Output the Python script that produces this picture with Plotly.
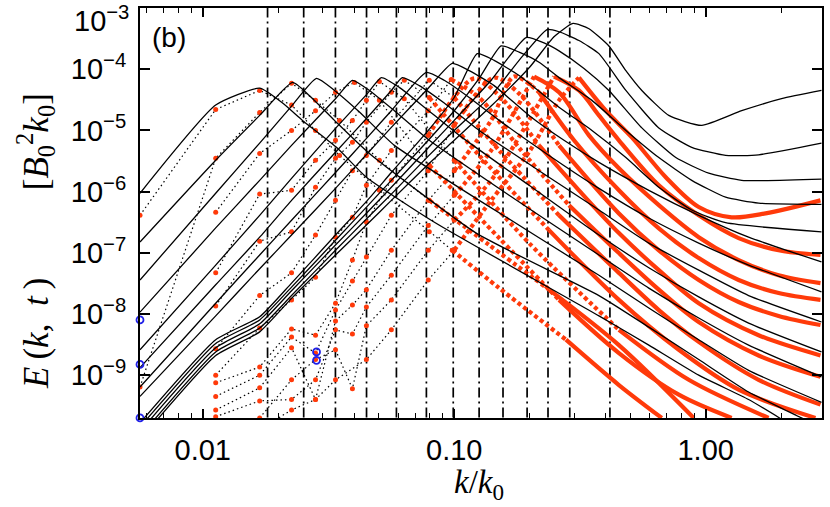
import numpy as np
import plotly.graph_objects as go

# ==========================
# DATA (k/k0, E)
# ==========================
# vertical dash-dot markers
k_marks = [0.0181, 0.0252, 0.0337, 0.0448, 0.0589, 0.0775, 0.0991, 0.1256,
           0.1563, 0.1949, 0.236, 0.288, 0.416]

# black solid spectra
k_c1 = [0.00563, 0.01126, 0.01684, 0.02255, 0.03372, 0.04516, 0.05623, 0.07885, 0.1, 0.1402, 0.2002,
        0.2493, 0.2967, 0.3434, 0.4121, 0.4814, 0.5572, 0.7129, 0.9641, 1.390, 2.003, 2.886]
E_c1 = [8.8e-11, 2.1e-9, 5.1e-9, 1.8e-8, 9.2e-8, 2.95e-7, 7.2e-7, 2.8e-6, 6.9e-6, 2.5e-5, 1.1e-4,
        3.4e-4, 5.6e-4, 4.6e-4, 2.4e-4, 9.5e-5, 4.5e-5, 1.76e-5, 1.21e-5, 2.1e-5, 3.3e-5, 4.5e-5]
k_c2 = [0.00563, 0.01126, 0.01684, 0.02255, 0.03372, 0.04516, 0.05623, 0.07885, 0.1, 0.1402, 0.1811,
        0.2339, 0.2610, 0.3133, 0.3762, 0.4814, 0.6510, 0.8799, 1.200, 1.623, 2.886]
E_c2 = [1.0e-10, 2.4e-9, 5.9e-9, 2.0e-8, 1.1e-7, 3.7e-7, 9.1e-7, 3.8e-6, 1.0e-5, 3.7e-5, 1.4e-4,
        4.45e-4, 4.1e-4, 2.95e-4, 1.8e-4, 4.5e-5, 1.1e-5, 5.3e-6, 3.9e-6, 4.0e-6, 6.2e-6]
k_c3 = [0.00563, 0.01126, 0.01684, 0.02255, 0.03372, 0.04516, 0.05623, 0.07885, 0.1, 0.1402, 0.1931,
        0.2276, 0.2610, 0.3281, 0.4121, 0.5572, 0.7603, 1.028, 1.390, 2.886]
E_c3 = [1.2e-10, 2.8e-9, 6.9e-9, 2.4e-8, 1.34e-7, 4.6e-7, 1.18e-6, 5.2e-6, 1.46e-5, 6.6e-5, 3.3e-4,
        2.7e-4, 2.0e-4, 1.03e-4, 4.5e-5, 1.1e-5, 3.6e-6, 2.0e-6, 1.53e-6, 1.6e-6]
k_c4 = [0.00563, 0.01126, 0.01684, 0.02255, 0.03372, 0.04516, 0.05623, 0.07885, 0.1, 0.1257, 0.1537,
        0.1811, 0.2174, 0.2610, 0.3529, 0.4814, 0.6510, 0.8799, 1.200, 1.623, 2.886]
E_c4 = [1.42e-10, 3.3e-9, 8.0e-9, 2.75e-8, 1.6e-7, 5.8e-7, 1.53e-6, 6.9e-6, 2.1e-5, 7.1e-5, 2.4e-4,
        1.9e-4, 1.3e-4, 7.3e-5, 3.1e-5, 1.0e-5, 3.6e-6, 1.53e-6, 8.1e-7, 6.5e-7, 6.2e-7]
k_c5 = [0.00563, 0.01126, 0.01684, 0.02255, 0.03372, 0.04516, 0.05623, 0.07885, 0.1, 0.1234, 0.1441,
        0.1811, 0.2610, 0.3529, 0.4814, 0.6510, 0.8799, 1.200, 2.886]
E_c5 = [1.66e-10, 3.8e-9, 9.0e-9, 3.2e-8, 1.95e-7, 7.2e-7, 2.05e-6, 1.0e-5, 3.45e-5, 1.8e-4, 1.4e-4,
        7.9e-5, 2.4e-5, 1.0e-5, 3.6e-6, 1.18e-6, 5.0e-7, 3.1e-7, 2.2e-7]
k_c6 = [0.00563, 0.01126, 0.01684, 0.02255, 0.03372, 0.04516, 0.05623, 0.07885, 0.09819, 0.1147,
        0.1441, 0.1984, 0.2732, 0.3762, 0.5939, 0.9380, 1.481, 2.886]
E_c6 = [4.5e-10, 9.3e-9, 5.5e-8, 1.95e-7, 1.13e-6, 4.2e-6, 1.12e-5, 4.9e-5, 1.25e-4, 9.5e-5,
        5.4e-5, 1.76e-5, 6.9e-6, 3.0e-6, 1.05e-6, 4.1e-7, 1.8e-7, 7.1e-8]
k_c7 = [0.00563, 0.01126, 0.01684, 0.02255, 0.03372, 0.04516, 0.05623, 0.07743, 0.09127, 0.1147,
        0.1509, 0.2382, 0.3762, 0.5939, 0.9380, 1.481, 2.886]
E_c7 = [6.4e-10, 1.5e-8, 9.2e-8, 3.4e-7, 2.05e-6, 7.7e-6, 2.1e-5, 8.9e-5, 6.6e-5, 3.45e-5,
        1.46e-5, 3.9e-6, 1.13e-6, 3.7e-7, 1.44e-7, 6.3e-8, 2.3e-8]
k_c8 = [0.00563, 0.01126, 0.01684, 0.02255, 0.03372, 0.04516, 0.05623, 0.06217, 0.07263, 0.09127,
        0.1257, 0.2174, 0.3762, 0.5939, 0.9380, 1.481, 2.886]
E_c8 = [1.33e-9, 3.0e-8, 1.8e-7, 7.2e-7, 4.4e-6, 1.63e-5, 4.5e-5, 7.3e-5, 5.4e-5, 2.8e-5,
        1.0e-5, 2.2e-6, 5.0e-7, 1.44e-7, 5.2e-8, 2.0e-8, 7.4e-9]
k_c9 = [0.00563, 0.01126, 0.01684, 0.02255, 0.03372, 0.04516, 0.05133, 0.06048, 0.07603, 0.1047,
        0.1984, 0.3762, 0.5939, 0.9380, 1.481, 2.886]
E_c9 = [2.6e-9, 6.3e-8, 4.1e-7, 1.65e-6, 1.08e-5, 4.0e-5, 7.3e-5, 5.05e-5, 2.4e-5, 8.3e-6,
        1.27e-6, 1.95e-7, 5.7e-8, 1.9e-8, 7.1e-9, 2.4e-9]
k_c10 = [0.00563, 0.01126, 0.01684, 0.02255, 0.03372, 0.03937, 0.04599, 0.05779, 0.07958, 0.1653,
         0.3762, 0.5939, 0.9380, 1.481, 2.886]
E_c10 = [1.07e-8, 2.55e-7, 1.53e-6, 5.7e-6, 3.3e-5, 6.6e-5, 4.5e-5, 2.1e-5, 6.9e-6, 8.7e-7,
         9.2e-8, 2.65e-8, 8.6e-9, 3.1e-9, 9.4e-10]
k_c11 = [0.00563, 0.01126, 0.01684, 0.02255, 0.02834, 0.03341, 0.04198, 0.05779, 0.1257, 0.3762,
         0.5939, 0.9380, 1.481, 2.886]
E_c11 = [3.6e-8, 9.4e-7, 6.2e-6, 2.5e-5, 7.1e-5, 4.5e-5, 2.0e-5, 5.7e-6, 7.2e-7, 4.3e-8,
         1.25e-8, 3.8e-9, 1.2e-9, 3.6e-10]
k_c12 = [0.00563, 0.01126, 0.01684, 0.02276, 0.02658, 0.03341, 0.04599, 0.1223, 0.3762, 0.5939,
         0.9380, 1.481, 2.404, 2.886]
E_c12 = [1.5e-7, 3.25e-6, 1.76e-5, 6.1e-5, 3.7e-5, 1.46e-5, 4.2e-6, 2.1e-7, 2.0e-8, 6.1e-9,
         1.8e-9, 5.3e-10, 2.0e-10, 1.3e-10]
k_c13 = [0.00563, 0.01126, 0.01684, 0.02077, 0.02493, 0.03402, 0.04474, 0.08404, 0.3762, 0.5939,
         0.9380, 1.481, 1.966, 2.886]
E_c13 = [9.4e-7, 2.6e-5, 4.9e-5, 2.8e-5, 1.46e-5, 5.3e-6, 1.72e-6, 3.1e-7, 9.3e-9, 3.1e-9,
         1.0e-9, 4.0e-10, 2.0e-10, 7.5e-11]

# red dotted spectra
k_r1 = [0.01684, 0.02255, 0.02808, 0.03372, 0.04474, 0.05623, 0.07885, 0.1, 0.1402, 0.2002, 0.2610,
        0.3133, 0.4010, 0.5085, 0.6938, 0.9380, 1.268, 1.730, 2.860]
E_r1 = [1.3e-10, 2.7e-10, 4.0e-10, 8.4e-10, 1.8e-9, 5.5e-9, 3.6e-8, 1.1e-7, 7.2e-7, 4.7e-6, 3.1e-5,
        7.3e-5, 2.1e-5, 7.7e-6, 1.72e-6, 5.6e-7, 3.8e-7, 4.4e-7, 7.2e-7]
k_r2 = [0.01684, 0.02255, 0.02808, 0.03372, 0.03937, 0.04474, 0.05623, 0.07885, 0.1, 0.1402, 0.1984,
        0.2493, 0.3133, 0.3762, 0.4517, 0.6510, 0.9380, 1.352, 1.949, 2.860]
E_r2 = [2.0e-10, 8.4e-10, 1.8e-9, 2.6e-9, 6.0e-10, 6.4e-9, 1.7e-8, 1.1e-7, 3.4e-7, 1.53e-6, 1.46e-5,
        7.6e-5, 4.5e-5, 1.76e-5, 6.9e-6, 1.27e-6, 4.1e-7, 1.74e-7, 1.1e-7, 9.2e-8]
k_r3 = [0.01126, 0.01684, 0.02255, 0.02808, 0.03372, 0.03937, 0.04474, 0.05623, 0.07885, 0.1, 0.1402,
        0.2078, 0.2610, 0.3434, 0.4517, 0.6510, 0.9380, 1.352, 1.949, 2.860]
E_r3 = [2.1e-10, 3.8e-10, 4.0e-10, 8.4e-10, 5.5e-9, 4.7e-9, 1.3e-8, 4.3e-8, 2.8e-7, 8.7e-7, 4.7e-6,
        7.6e-5, 4.2e-5, 8.3e-6, 2.4e-6, 6.0e-7, 1.8e-7, 7.6e-8, 4.3e-8, 3.2e-8]
k_r4 = [0.01126, 0.01684, 0.02255, 0.02808, 0.03372, 0.03937, 0.04474, 0.05623, 0.07885, 0.1, 0.1402,
        0.1730, 0.2174, 0.2994, 0.4517, 0.6510, 0.9380, 1.352, 1.949, 2.860]
E_r4 = [2.7e-10, 6.2e-10, 2.8e-9, 4.0e-10, 7.7e-9, 1.4e-8, 2.5e-8, 1.1e-7, 7.2e-7, 2.2e-6, 1.46e-5,
        7.6e-5, 4.2e-5, 6.9e-6, 1.05e-6, 2.5e-7, 8.2e-8, 3.6e-8, 2.2e-8, 1.7e-8]
k_r5 = [0.01126, 0.01684, 0.02255, 0.02808, 0.03372, 0.03937, 0.04474, 0.05623, 0.07885, 0.1, 0.1441,
        0.1811, 0.2610, 0.4517, 0.6510, 0.9380, 1.352, 1.949, 2.860]
E_r5 = [4.5e-10, 1.0e-9, 4.2e-9, 2.3e-9, 1.16e-8, 3.45e-8, 8.5e-8, 4.1e-7, 2.2e-6, 1.21e-5, 7.3e-5,
        4.0e-5, 5.7e-6, 4.4e-7, 1.1e-7, 3.6e-8, 1.57e-8, 9.3e-9, 6.6e-9]
k_r6 = [0.01126, 0.01684, 0.02255, 0.02808, 0.03372, 0.03937, 0.04474, 0.05623, 0.07885, 0.1201,
        0.1509, 0.2174, 0.3133, 0.4517, 0.6510, 0.9380, 1.623, 2.860]
E_r6 = [7.5e-10, 1.36e-9, 5.7e-9, 4.5e-9, 1.5e-8, 7.6e-8, 3.2e-7, 1.53e-6, 8.3e-6, 7.1e-5,
        3.7e-5, 5.7e-6, 1.05e-6, 2.1e-7, 5.2e-8, 1.5e-8, 4.5e-9, 2.1e-9]
k_r7 = [0.01126, 0.01684, 0.02255, 0.02808, 0.03372, 0.03937, 0.04474, 0.05623, 0.07885, 0.09729,
        0.1257, 0.1811, 0.2860, 0.4517, 0.6510, 0.9380, 1.623, 2.860]
E_r7 = [1.0e-9, 5.9e-9, 1.7e-8, 4.0e-8, 1.8e-7, 3.8e-7, 1.27e-6, 4.7e-6, 2.1e-5, 6.8e-5,
        3.45e-5, 5.2e-6, 6.0e-7, 9.9e-8, 2.5e-8, 7.4e-9, 2.1e-9, 9.4e-10]
k_r8 = [0.01126, 0.01684, 0.02255, 0.02808, 0.03372, 0.03937, 0.04474, 0.05623, 0.07958, 0.1,
        0.1509, 0.2610, 0.4517, 0.6510, 0.9380, 1.623, 2.860]
E_r8 = [2.7e-9, 2.0e-8, 4.7e-8, 1.95e-7, 7.2e-7, 2.2e-6, 3.9e-6, 1.36e-5, 6.6e-5, 3.45e-5,
        4.7e-6, 4.1e-7, 4.7e-8, 1.16e-8, 3.5e-9, 8.4e-10, 3.3e-10]
k_r9 = [0.01126, 0.01684, 0.02255, 0.02808, 0.03372, 0.03937, 0.04474, 0.05623, 0.06331, 0.07958,
        0.1257, 0.2382, 0.4517, 0.7816, 1.352, 2.732]
E_r9 = [1.35e-8, 1.55e-7, 2.2e-7, 1.18e-6, 3.5e-6, 6.4e-6, 1.36e-5, 4.2e-5, 6.6e-5, 3.45e-5,
        3.9e-6, 2.35e-7, 1.7e-8, 2.6e-9, 5.8e-10, 2.0e-10]
k_r10 = [0.01126, 0.01684, 0.02255, 0.02808, 0.03372, 0.03937, 0.04474, 0.05040, 0.06331, 0.1,
         0.1984, 0.4517, 0.8560, 1.778]
E_r10 = [4.7e-8, 9.1e-7, 1.05e-6, 3.25e-6, 6.9e-6, 1.46e-5, 3.1e-5, 6.3e-5, 3.3e-5, 3.25e-6,
         1.44e-7, 5.5e-9, 8.4e-10, 2.0e-10]
k_r11 = [0.01126, 0.01684, 0.02255, 0.02808, 0.03372, 0.04010, 0.05040, 0.07958, 0.1509, 0.2610,
         0.4517, 0.7816, 1.268]
E_r11 = [4.6e-7, 4.2e-6, 1.0e-5, 2.1e-5, 4.2e-5, 6.1e-5, 3.1e-5, 2.7e-6, 1.74e-7, 1.7e-8,
         2.3e-9, 4.8e-10, 2.0e-10]
k_r12 = [0.00563, 0.01126, 0.01684, 0.02255, 0.02808, 0.03498, 0.05040, 0.07958, 0.1377, 0.2382,
         0.4517, 0.8960]
E_r12 = [6.4e-10, 3.5e-6, 1.97e-5, 5.9e-5, 3.1e-5, 1.46e-5, 3.25e-6, 7.2e-7, 1.34e-7, 2.5e-8,
         3.1e-9, 2.0e-10]
k_r13 = [0.00563, 0.01126, 0.01684, 0.02255, 0.02808, 0.03498, 0.05040, 0.07958, 0.09819, 0.1509,
         0.2782, 0.4517, 0.6689]
E_r13 = [4.1e-7, 2.2e-5, 4.5e-5, 2.6e-5, 1.0e-5, 3.9e-6, 1.05e-6, 2.2e-7, 1.1e-7, 2.65e-8,
         3.8e-9, 6.9e-10, 2.0e-10]

# blue open circles
k_blue = [0.00563, 0.00563, 0.00563, 0.02834, 0.02834]
E_blue = [8.0e-9, 1.5e-9, 2.0e-10, 2.4e-9, 1.75e-9]

black_sets = [(k_c1, E_c1), (k_c2, E_c2), (k_c3, E_c3), (k_c4, E_c4), (k_c5, E_c5),
              (k_c6, E_c6), (k_c7, E_c7), (k_c8, E_c8), (k_c9, E_c9), (k_c10, E_c10),
              (k_c11, E_c11), (k_c12, E_c12), (k_c13, E_c13)]
red_sets = [(k_r1, E_r1), (k_r2, E_r2), (k_r3, E_r3), (k_r4, E_r4), (k_r5, E_r5),
            (k_r6, E_r6), (k_r7, E_r7), (k_r8, E_r8), (k_r9, E_r9), (k_r10, E_r10),
            (k_r11, E_r11), (k_r12, E_r12), (k_r13, E_r13)]

RED = "#ff3a0a"
K_LO, K_HI = 0.00563, 2.9
E_LO, E_HI = 2.0e-10, 1.0e-3

fig = go.Figure()

# ==========================
# VERTICAL DASH-DOT LINES
# ==========================
for km in k_marks:
    fig.add_trace(go.Scatter(x=[km, km], y=[1e-11, 1e-2], mode="lines",
                             line=dict(color="black", width=1.7, dash="10px,4px,2px,4px"),
                             hoverinfo="skip"))

# ==========================
# RED SPECTRA
# ==========================
for k, E in red_sets:
    k = np.asarray(k)
    E = np.asarray(E)
    i1 = np.nonzero(k <= 0.105)[0].max()
    i2 = max(np.nonzero(k >= 0.2)[0].min(), int(np.argmax(E)))
    fig.add_trace(go.Scatter(x=k[:i1 + 1], y=E[:i1 + 1], mode="lines+markers",
                             line=dict(color="black", width=1.2, dash="1.5px,3px"),
                             marker=dict(color=RED, size=5)))
    fig.add_trace(go.Scatter(x=k[i1:i2 + 1], y=E[i1:i2 + 1], mode="lines",
                             line=dict(color=RED, width=4.2, dash="4px,3px",
                                       shape="spline", smoothing=0.8)))
    fig.add_trace(go.Scatter(x=k[i2:], y=E[i2:], mode="lines",
                             line=dict(color=RED, width=4.2, shape="spline", smoothing=0.9)))

# ==========================
# BLACK SPECTRA
# ==========================
for k, E in black_sets:
    fig.add_trace(go.Scatter(x=k, y=E, mode="lines",
                             line=dict(color="black", width=1.3, shape="spline", smoothing=0.5)))

fig.add_trace(go.Scatter(x=k_blue, y=E_blue, mode="markers",
                         marker=dict(symbol="circle-open", color="#2020e8", size=7,
                                     line=dict(width=1.8)), cliponaxis=False))

# ==========================
# AXES
# ==========================
minor_x = [0.006, 0.007, 0.008, 0.009, 0.02, 0.03, 0.04, 0.05, 0.06, 0.07, 0.08, 0.09,
           0.2, 0.3, 0.4, 0.5, 0.6, 0.7, 0.8, 0.9, 2.0]
fig.update_xaxes(type="log", range=[np.log10(K_LO), np.log10(K_HI)],
                 tickmode="array", tickvals=[0.01, 0.1, 1.0], ticktext=["0.01", "0.10", "1.00"],
                 ticks="inside", ticklen=9, tickwidth=1.5, tickcolor="black",
                 minor=dict(tickmode="array", tickvals=minor_x, ticks="inside", ticklen=5,
                            tickwidth=1.3, tickcolor="black", showgrid=False),
                 showline=True, linewidth=2, linecolor="black", mirror="allticks",
                 showgrid=False, zeroline=False, ticklabelstandoff=5,
                 tickfont=dict(family="Liberation Sans", size=29))
y_ticks = [1e-9, 1e-8, 1e-7, 1e-6, 1e-5, 1e-4, 1e-3]
y_text = ["10<sup>\u22129</sup>", "10<sup>\u22128</sup>", "10<sup>\u22127</sup>", "10<sup>\u22126</sup>",
          "10<sup>\u22125</sup>", "10<sup>\u22124</sup>", ""]
fig.update_yaxes(type="log", range=[np.log10(E_LO) - 0.001, np.log10(E_HI) + 0.001],
                 tickmode="array", tickvals=y_ticks, ticktext=y_text,
                 ticks="inside", ticklen=10, tickwidth=1.5, tickcolor="black",
                 showline=True, linewidth=2, linecolor="black", mirror="allticks",
                 showgrid=False, zeroline=False, ticklabelstandoff=6,
                 tickfont=dict(family="Liberation Sans", size=29))

# top tick label placed inside the page
fig.add_annotation(xref="paper", yref="paper", x=-0.0135, y=1.0, xanchor="right", yanchor="top",
                   yshift=9, text="10<sup>\u22123</sup>", showarrow=False,
                   font=dict(family="Liberation Sans", size=29, color="black"))
fig.add_annotation(xref="paper", yref="paper", x=0.015, y=0.927, xanchor="left", yanchor="middle",
                   text="(b)", showarrow=False,
                   font=dict(family="Liberation Sans", size=28, color="black"))
fig.add_annotation(xref="paper", yref="paper", x=-0.153, y=0.431, xanchor="center", yanchor="middle",
                   textangle=-90, showarrow=False,
                   text="<i>E</i>\u2009(<i>k</i>,\u2002<i>t</i>\u2009)\u2003\u2003\u2002[<i>B</i><sub>0</sub><sup>2</sup><i>k</i><sub>0</sub>]",
                   font=dict(family="Liberation Serif", size=35, color="black"))
fig.add_annotation(xref="paper", yref="paper", x=0.497, y=-0.163, xanchor="center", yanchor="middle",
                   text="<i>k</i>/<i>k</i><sub>0</sub>", showarrow=False,
                   font=dict(family="Liberation Serif", size=33, color="black"))

fig.update_layout(width=830, height=507, margin=dict(l=140, r=6, t=7, b=89),
                  paper_bgcolor="white", plot_bgcolor="white", showlegend=False,
                  font=dict(family="Liberation Sans", size=29, color="black"))

fig.write_html("out.html", config={"displayModeBar": False},
               post_script="document.body.style.margin='0';")
